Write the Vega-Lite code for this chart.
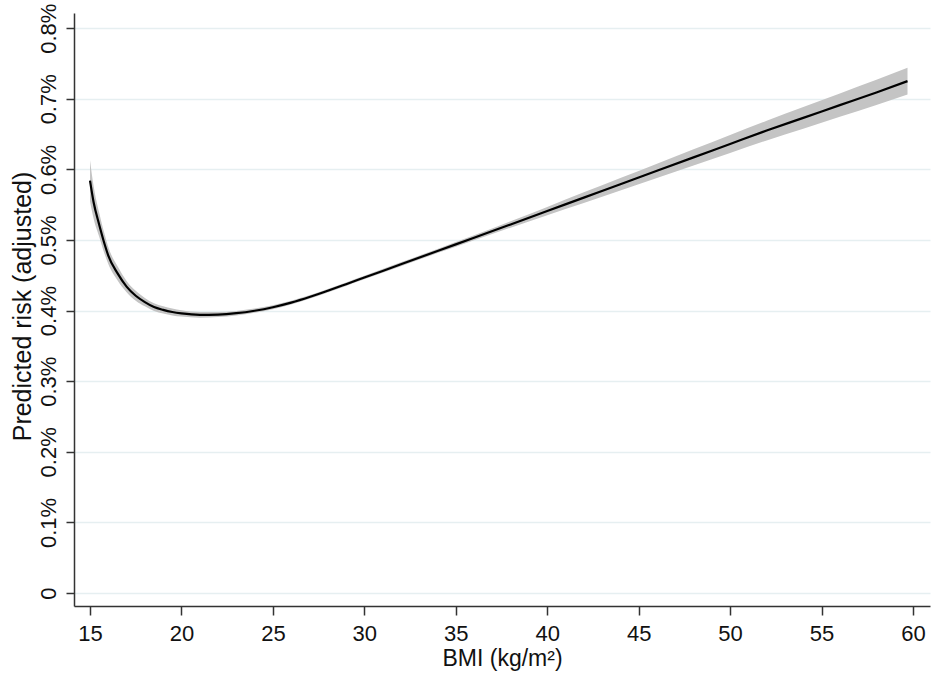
{
  "$schema": "https://vega.github.io/schema/vega-lite/v6.json",
  "autosize": {"type": "none"},
  "width": 856,
  "height": 593,
  "padding": {"left": 74, "top": 13, "right": 8, "bottom": 81},
  "background": "white",
  "config": {
    "view": {"stroke": null},
    "font": "Liberation Sans"
  },
  "data": {
    "values": [
      {"bmi": 15, "risk": 0.584, "lo": 0.555, "hi": 0.613},
      {"bmi": 15.2, "risk": 0.553, "lo": 0.530, "hi": 0.576},
      {"bmi": 15.5, "risk": 0.522, "lo": 0.505, "hi": 0.539},
      {"bmi": 15.8, "risk": 0.494, "lo": 0.480, "hi": 0.508},
      {"bmi": 16, "risk": 0.478, "lo": 0.466, "hi": 0.490},
      {"bmi": 16.5, "risk": 0.453, "lo": 0.443, "hi": 0.463},
      {"bmi": 17, "risk": 0.434, "lo": 0.426, "hi": 0.442},
      {"bmi": 17.5, "risk": 0.421, "lo": 0.414, "hi": 0.428},
      {"bmi": 18, "risk": 0.412, "lo": 0.406, "hi": 0.418},
      {"bmi": 18.5, "risk": 0.405, "lo": 0.3995, "hi": 0.4105},
      {"bmi": 19, "risk": 0.401, "lo": 0.396, "hi": 0.406},
      {"bmi": 19.5, "risk": 0.398, "lo": 0.3932, "hi": 0.4028},
      {"bmi": 20, "risk": 0.396, "lo": 0.3915, "hi": 0.4005},
      {"bmi": 21, "risk": 0.394, "lo": 0.390, "hi": 0.398},
      {"bmi": 22, "risk": 0.3944, "lo": 0.3909, "hi": 0.3979},
      {"bmi": 23, "risk": 0.3963, "lo": 0.3931, "hi": 0.3995},
      {"bmi": 24, "risk": 0.3998, "lo": 0.3968, "hi": 0.4028},
      {"bmi": 25, "risk": 0.4048, "lo": 0.402, "hi": 0.4076},
      {"bmi": 26, "risk": 0.4113, "lo": 0.4087, "hi": 0.4139},
      {"bmi": 27, "risk": 0.4192, "lo": 0.4167, "hi": 0.4217},
      {"bmi": 28, "risk": 0.4281, "lo": 0.4256, "hi": 0.4306},
      {"bmi": 29, "risk": 0.4374, "lo": 0.4349, "hi": 0.4399},
      {"bmi": 30, "risk": 0.4468, "lo": 0.4443, "hi": 0.4493},
      {"bmi": 32, "risk": 0.4656, "lo": 0.4628, "hi": 0.4684},
      {"bmi": 34, "risk": 0.4844, "lo": 0.4814, "hi": 0.4874},
      {"bmi": 36, "risk": 0.5032, "lo": 0.4997, "hi": 0.5067},
      {"bmi": 38, "risk": 0.522, "lo": 0.5175, "hi": 0.5265},
      {"bmi": 40, "risk": 0.541, "lo": 0.5352, "hi": 0.5468},
      {"bmi": 42, "risk": 0.560, "lo": 0.5525, "hi": 0.5675},
      {"bmi": 44, "risk": 0.579, "lo": 0.5702, "hi": 0.5878},
      {"bmi": 46, "risk": 0.598, "lo": 0.5879, "hi": 0.6081},
      {"bmi": 48, "risk": 0.617, "lo": 0.6056, "hi": 0.6284},
      {"bmi": 50, "risk": 0.636, "lo": 0.6233, "hi": 0.6487},
      {"bmi": 52, "risk": 0.655, "lo": 0.641, "hi": 0.669},
      {"bmi": 54, "risk": 0.673, "lo": 0.6577, "hi": 0.6883},
      {"bmi": 56, "risk": 0.691, "lo": 0.6744, "hi": 0.7076},
      {"bmi": 58, "risk": 0.709, "lo": 0.6911, "hi": 0.7269},
      {"bmi": 59.7, "risk": 0.725, "lo": 0.706, "hi": 0.744}
    ]
  },
  "encoding": {
    "x": {
      "field": "bmi",
      "type": "quantitative",
      "scale": {"domain": [14.125, 60.93], "nice": false, "zero": false},
      "axis": {
        "title": "BMI (kg/m²)",
        "values": [15, 20, 25, 30, 35, 40, 45, 50, 55, 60],
        "grid": false,
        "domainColor": "#333333",
        "domainWidth": 1.5,
        "tickColor": "#333333",
        "tickWidth": 1.5,
        "tickSize": 9,
        "labelFontSize": 22,
        "labelColor": "#111111",
        "labelPadding": 8,
        "titleFontSize": 23,
        "titleFontWeight": "normal",
        "titleColor": "#111111",
        "titlePadding": 3
      }
    }
  },
  "layer": [
    {
      "mark": {"type": "area", "color": "#c4c4c4", "opacity": 1, "interpolate": "monotone"},
      "encoding": {
        "y": {
          "field": "lo",
          "type": "quantitative",
          "scale": {"domain": [-0.0184, 0.8215], "nice": false, "zero": false},
          "axis": {
            "title": "Predicted risk (adjusted)",
            "values": [0, 0.1, 0.2, 0.3, 0.4, 0.5, 0.6, 0.7, 0.8],
            "labelExpr": "datum.value == 0 ? '0' : format(datum.value, '.1f') + '%'",
            "grid": true,
            "gridColor": "#e6eff1",
            "gridWidth": 1.5,
            "domainColor": "#333333",
            "domainWidth": 1.5,
            "tickColor": "#333333",
            "tickWidth": 1.5,
            "tickSize": 8,
            "labelAngle": 270,
            "labelAlign": "center",
            "labelBaseline": "alphabetic",
            "labelPadding": 11,
            "labelFontSize": 22,
            "labelColor": "#111111",
            "titleFontSize": 25,
            "titleFontWeight": "normal",
            "titleColor": "#111111",
            "titleAngle": 270,
            "titleBaseline": "middle",
            "titleAlign": "center",
            "titleX": -52,
            "titleY": 293
          }
        },
        "y2": {"field": "hi"}
      }
    },
    {
      "mark": {"type": "line", "color": "#000000", "strokeWidth": 2.2, "interpolate": "monotone"},
      "encoding": {
        "y": {"field": "risk", "type": "quantitative"}
      }
    }
  ]
}
